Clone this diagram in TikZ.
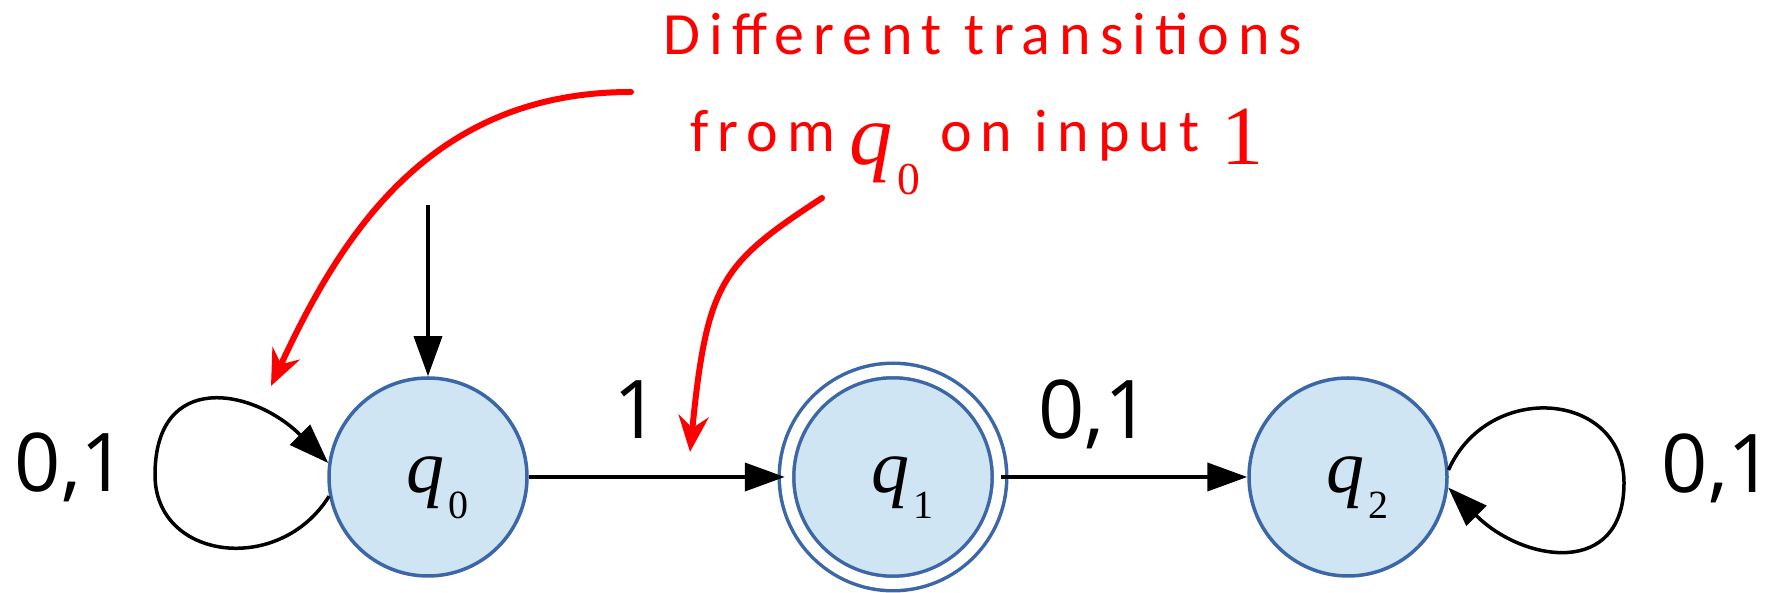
\documentclass[tikz,border=0pt]{standalone}
\usepackage{fontspec}
\setmainfont{Open Sans}
\newfontfamily\tmsfont{Liberation Serif}
\newfontfamily\handfont[LetterSpace=15]{Carlito}
\usetikzlibrary{arrows.meta}
\definecolor{statefill}{RGB}{208,229,244}
\definecolor{stateline}{RGB}{59,103,168}
\newcommand{\qsub}[1]{{\fontsize{76}{78}\selectfont\tmsfont\itshape q}\kern4pt\raisebox{-26pt}{\fontsize{40}{42}\selectfont\tmsfont #1}}

\begin{document}
\begin{tikzpicture}[x=1pt, y=1pt,
    state/.style={circle, draw=stateline, fill=statefill, line width=3.5pt, minimum size=198pt,
        inner sep=0pt, text height=47pt, text depth=15pt},
    accepting/.style={double=white, double distance=11pt, minimum size=213pt},
    trans/.style={-{Triangle[length=40pt, width=28pt]}, line width=3.5pt},
    edgelabel/.style={font=\fontsize{81}{84}\selectfont, inner sep=0pt},
    pointer/.style={red, line width=6pt, line cap=round, -{Stealth[length=36pt, width=30pt, inset=12pt]}},
    notetext/.style={text=red, font=\handfont\fontsize{60}{62}\selectfont, inner sep=0pt}]
\useasboundingbox (0,0) rectangle (1776,593);

% states
\node[state] (q0) at (428,116) {\kern18pt\qsub{0}};
\node[state, accepting] (q1) at (893,116) {\kern18pt\qsub{1}};
\node[state] (q2) at (1348,116) {\kern18pt\qsub{2}};

% transitions
\coordinate (init) at (428,388);
\coordinate (q0loop) at (155,118);
\coordinate (q2loop) at (1624,110);
\draw[trans] (init) -- (q0);
\draw[trans, line width=4pt] (q0) -- (q1) node[edgelabel, pos=.42, anchor=base, yshift=38pt] {1};
\draw[trans, line width=4pt] (q1) -- (q2) node[edgelabel, pos=.38, anchor=base, yshift=38pt] {0,1};
\draw[trans] (q0.191) .. controls +(-50,-80) and +(0,-85) .. (q0loop)
    node[edgelabel, anchor=base east, xshift=-26pt, yshift=-17pt] {0,1}
    .. controls +(0,105) and +(-75,75) .. (q0.172);
\draw[trans] (q2.4) .. controls +(40,90) and +(0,92) .. (q2loop)
    node[edgelabel, anchor=base west, xshift=36pt, yshift=-10pt] {0,1}
    .. controls +(0,-95) and +(75,-75) .. (q2.-6);

% remark
\node[notetext, anchor=base] (line1) at (983,538) {Different transitions};
\node[notetext, anchor=base] (line2) at (977,441) {from\hspace{14pt}\raisebox{-13pt}{\scalebox{1.14}{\qsub{0}}}\hspace{20pt}on input\hspace{22pt}\raisebox{-13pt}{\fontsize{84}{86}\selectfont\tmsfont 1}};
\coordinate (p1s) at (631,501);
\coordinate (p1e) at (271,207);
\draw[pointer] (p1s) .. controls +(-200,0) and +(71,153) .. (p1e);
\coordinate (p2s) at (822,395);
\coordinate (p2e) at (690,141);
\draw[pointer] (p2s) .. controls +(-101,-66) and +(17,170) .. (p2e);
\end{tikzpicture}
\end{document}
